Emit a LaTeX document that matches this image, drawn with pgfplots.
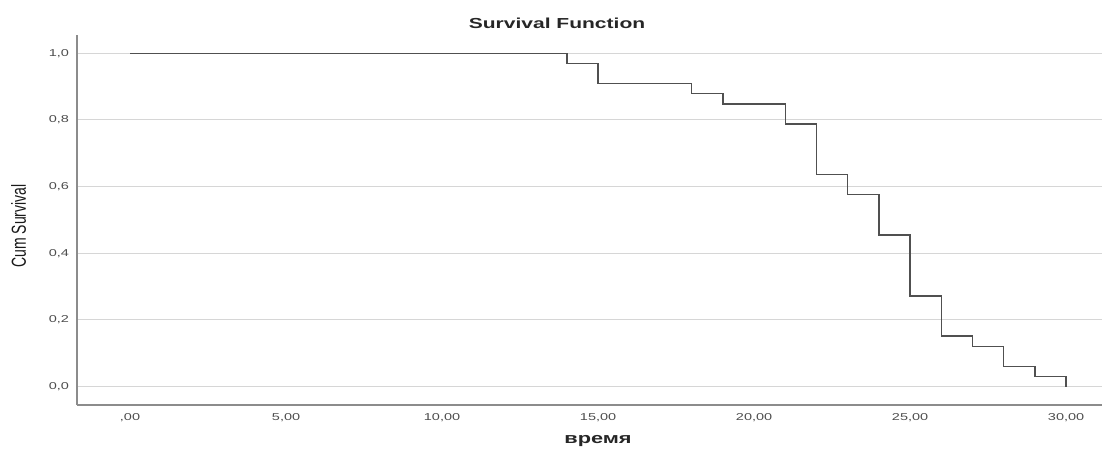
\documentclass[border=0pt]{standalone}
\usepackage{fontspec}
\setmainfont{Liberation Sans}
\usepackage{graphicx}
\usepackage{pgfplots}
\pgfplotsset{compat=1.18}
\definecolor{linec}{HTML}{505050}
\definecolor{gridc}{HTML}{D6D6D6}
\definecolor{axisc}{HTML}{8C8C8C}
\definecolor{tickc}{HTML}{4D4D4D}
\begin{document}
\begin{tikzpicture}
\useasboundingbox (0pt,0pt) rectangle (1102pt,450pt);
\begin{axis}[
  at={(77pt,45pt)}, anchor=south west,
  scale only axis, width=1025pt, height=370pt,
  xmin=-1.7, xmax=31.15, ymin=-0.055, ymax=1.055,
  axis x line*=bottom, axis y line*=left,
  axis line style={axisc, line width=1.2pt, -},
  xtick={0,5,10,15,20,25,30},
  xticklabels={{,00},{5,00},{10,00},{15,00},{20,00},{25,00},{30,00}},
  ytick={0,0.2,0.4,0.6,0.8,1.0},
  yticklabels={{0,0},{0,2},{0,4},{0,6},{0,8},{1,0}},
  major tick length=0pt,
  tick label style={font=\fontsize{10}{12}\selectfont, text=tickc, xscale=1.45},
  xticklabel style={yshift=-5pt},
  yticklabel style={xshift=-2pt},
  ymajorgrids, major grid style={gridc, line width=1pt},
  clip=false,
]
\addplot[const plot mark left, linec, line width=1.5pt, mark=none] coordinates {
(0,1) (14,0.9697) (15,0.9091) (18,0.8788) (19,0.8485) (21,0.7879)
(22,0.6364) (23,0.5758) (24,0.4545) (25,0.2727) (26,0.1515)
(27,0.1212) (28,0.0606) (29,0.0303) (30,0)
};
\end{axis}
\node[font=\fontsize{14.5}{16}\selectfont\bfseries, text=black!85, xscale=1.45] at (557pt,427pt) {Survival Function};
\node[font=\fontsize{15}{16}\selectfont\bfseries, text=black!85, xscale=1.45] at (598pt,9pt) {время};
\node[rotate=90, font=\fontsize{14}{16}\selectfont, text=black!90] at (18.5pt,224pt) {\scalebox{1}[1.45]{Cum Survival}};
\end{tikzpicture}
\end{document}
